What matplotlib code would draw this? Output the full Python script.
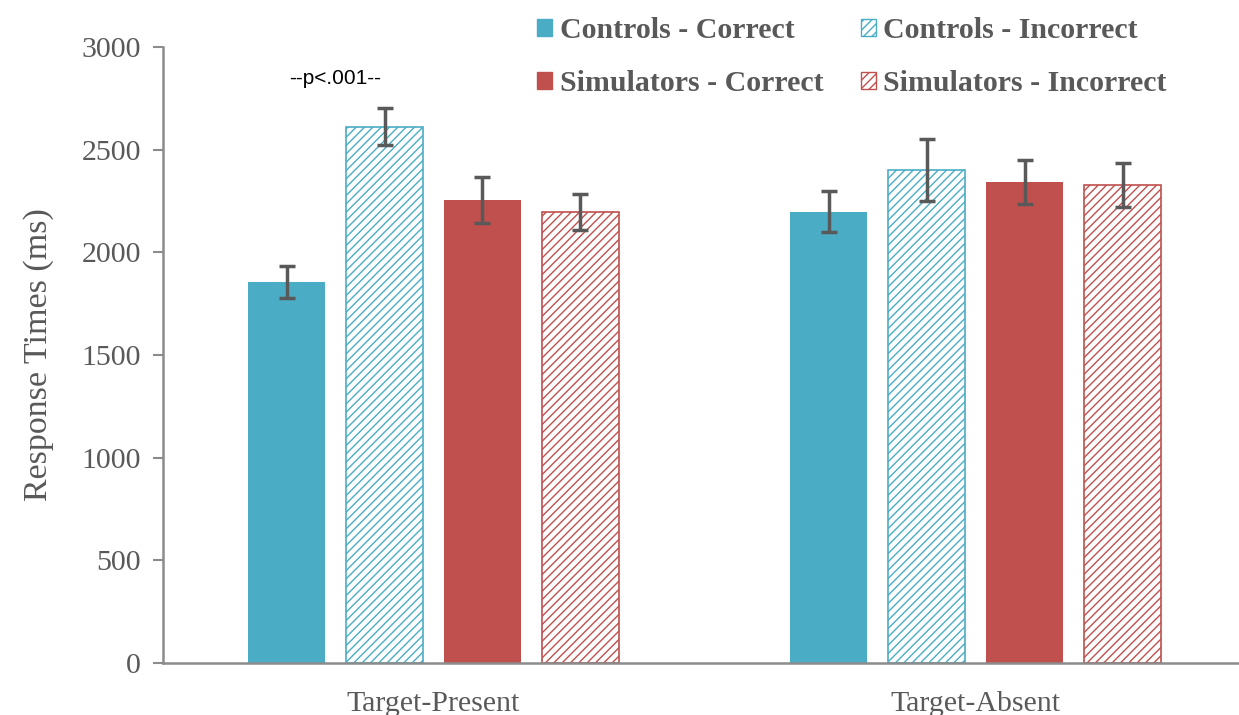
import numpy as np
import matplotlib.pyplot as plt
from matplotlib.patches import Patch

conditions = ['Target-Present', 'Target-Absent']
series = ['Controls - Correct', 'Controls - Incorrect',
          'Simulators - Correct', 'Simulators - Incorrect']
means = [[1856, 2611, 2255, 2197],
         [2197, 2401, 2343, 2328]]
errors = [[78, 90, 110, 88],
          [100, 150, 105, 105]]

teal = '#4BACC6'
red = '#C0504D'
grey = '#595959'
colors = [teal, teal, red, red]
hatched = [False, True, False, True]

plt.rcParams['hatch.linewidth'] = 1.0
fig = plt.figure(figsize=(12.39, 7.15), dpi=100)
ax = fig.add_axes([0.1316, 0.0727, 0.8684, 0.8615])

x = np.arange(len(conditions))
step = 0.1806
width = 0.142
for i, name in enumerate(series):
    vals = [m[i] for m in means]
    errs = [e[i] for e in errors]
    pos = x + (i - 1.5) * step
    if hatched[i]:
        ax.bar(pos, vals, width, facecolor='white', edgecolor=colors[i],
               hatch='////', linewidth=1.2, zorder=2)
    else:
        ax.bar(pos, vals, width, color=colors[i], zorder=2)
    ax.errorbar(pos, vals, yerr=errs, fmt='none', ecolor=grey,
                elinewidth=2.5, capsize=6, capthick=2.5, zorder=3)

ax.set_xlim(-0.4986, 1.485)
ax.set_ylim(0, 3000)
ax.set_yticks(range(0, 3001, 500))
ax.set_xticks(x)
ax.set_xticklabels(conditions, family='Liberation Serif', fontsize=21.5, color=grey)
for lab in ax.get_yticklabels():
    lab.set_family('Liberation Serif')
    lab.set_fontsize(21.5)
    lab.set_color(grey)
ax.tick_params(axis='x', length=0, pad=20)
ax.tick_params(axis='y', length=7, width=1.5, color='#8c8c8c', pad=9)
ax.set_ylabel('Response Times (ms)', family='Liberation Serif', fontsize=24.5,
              color=grey, labelpad=20)
for s in ['top', 'right']:
    ax.spines[s].set_visible(False)
for s in ['left', 'bottom']:
    ax.spines[s].set_color('#8c8c8c')
    ax.spines[s].set_linewidth(1.8)

ax.text(x[0] - step, 2849, '--p<.001--', ha='center', va='center',
        family='Liberation Sans', fontsize=15, color='black')

handles = []
for i, name in enumerate(series):
    if hatched[i]:
        handles.append(Patch(facecolor='white', edgecolor=colors[i], hatch='////', label=name))
    else:
        handles.append(Patch(facecolor=colors[i], edgecolor=colors[i], label=name))
order = [0, 2, 1, 3]
leg = fig.legend([handles[k] for k in order], [series[k] for k in order],
                 ncol=2, loc='upper left', bbox_to_anchor=(0.412, 1.014),
                 frameon=False, handlelength=0.5, handleheight=0.5,
                 handletextpad=0.25, columnspacing=1.25, labelspacing=0.88,
                 prop={'family': 'Liberation Serif', 'weight': 'bold', 'size': 21.5})
for t in leg.get_texts():
    t.set_color(grey)

fig.savefig('out.png', dpi=100)
